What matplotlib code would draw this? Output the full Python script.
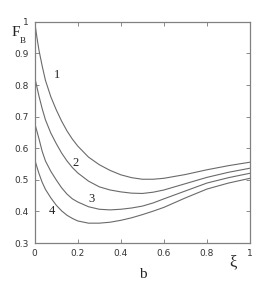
import matplotlib
matplotlib.use("Agg")
import matplotlib.pyplot as plt

x = [0, 0.01, 0.02, 0.035, 0.05, 0.075, 0.1, 0.125, 0.15, 0.175, 0.2, 0.25, 0.3, 0.35, 0.4, 0.45, 0.5, 0.55, 0.6, 0.7, 0.8, 0.9, 1.0]
curve1 = [1.0, 0.953, 0.91, 0.86, 0.815, 0.763, 0.722, 0.686, 0.655, 0.629, 0.607, 0.572, 0.548, 0.53, 0.516, 0.507, 0.502, 0.502, 0.505, 0.517, 0.532, 0.545, 0.556]
curve2 = [0.825, 0.795, 0.765, 0.725, 0.69, 0.648, 0.615, 0.585, 0.56, 0.539, 0.522, 0.496, 0.478, 0.468, 0.462, 0.458, 0.457, 0.461, 0.468, 0.488, 0.508, 0.524, 0.537]
curve3 = [0.68, 0.655, 0.63, 0.59, 0.56, 0.527, 0.5, 0.475, 0.455, 0.44, 0.43, 0.415, 0.407, 0.405, 0.407, 0.411, 0.417, 0.427, 0.44, 0.465, 0.49, 0.507, 0.521]
curve4 = [0.565, 0.542, 0.52, 0.492, 0.47, 0.443, 0.42, 0.402, 0.388, 0.378, 0.37, 0.363, 0.363, 0.366, 0.372, 0.38, 0.39, 0.401, 0.413, 0.443, 0.471, 0.49, 0.505]
labels = ["1", "2", "3", "4"]
label_pos = [(0.104, 0.832), (0.19, 0.553), (0.265, 0.44), (0.079, 0.40)]
xticks = [0, 0.2, 0.4, 0.6, 0.8, 1]
xticklabels = ["0", "0.2", "0.4", "0.6", "0.8", "1"]
yticks = [0.3, 0.4, 0.5, 0.6, 0.7, 0.8, 0.9, 1.0]
yticklabels = ["0.3", "0.4", "0.5", "0.6", "0.7", "0.8", "0.9", "1"]

fig = plt.figure(figsize=(2.73, 2.88), dpi=100)
ax = fig.add_axes([0.127, 0.156, 0.789, 0.768])
lc = "#6a6a6a"
for c in (curve1, curve2, curve3, curve4):
    ax.plot(x, c, color=lc, lw=0.8)
ax.set_xlim(0, 1)
ax.set_ylim(0.3, 1.0)
ax.set_xticks(xticks)
ax.set_xticklabels(xticklabels)
ax.set_yticks(yticks)
ax.set_yticklabels(yticklabels)
tickfam = ["Liberation Sans Narrow", "DejaVu Sans"]
for t in ax.get_xticklabels() + ax.get_yticklabels():
    t.set_fontfamily(tickfam)
    t.set_fontsize(6.5)
    t.set_color("#333333")
ax.tick_params(direction="in", length=3, width=0.6, color="#777777",
               top=True, right=True, pad=4)
for s in ax.spines.values():
    s.set_color("#808080")
    s.set_linewidth(0.9)

serif = ["Liberation Serif", "DejaVu Serif"]
for lab, (lx, ly) in zip(labels, label_pos):
    ax.text(lx, ly, lab, fontsize=9, family=serif, ha="center", va="center", color="#222222")

fig.text(16 / 273, 1 - 33 / 288, r"F", fontsize=11, family=serif, ha="center", va="center", color="#222222")
fig.text(23 / 273, 1 - 41 / 288, r"B", fontsize=6.5, family=serif, ha="center", va="center", color="#222222")
fig.text(233 / 273, 1 - 262 / 288, "ξ", fontsize=12, family=serif, ha="center", va="center", color="#222222")
fig.text(143 / 273, 1 - 274 / 288, "b", fontsize=11, family=serif, ha="center", va="center", color="#222222")

fig.savefig("out.png", dpi=100, facecolor="white")
